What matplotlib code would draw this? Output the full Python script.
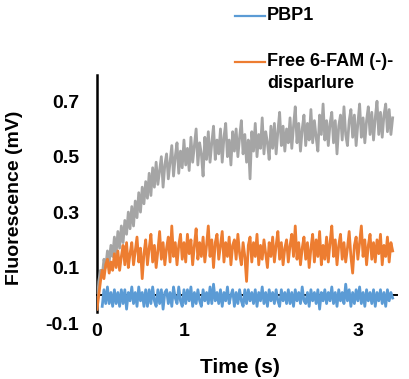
import numpy as np
import matplotlib
matplotlib.use("Agg")
import matplotlib.pyplot as plt
from matplotlib.lines import Line2D

plt.rcParams["font.family"] = ["Liberation Sans", "DejaVu Sans"]
plt.rcParams["font.weight"] = "bold"

# sampling of the stopped-flow traces (s)
t_step = 0.02
n_points = 171
time_s = np.round(np.arange(n_points) * t_step, 2)

# PBP1 alone (mV); recording starts a little after mixing
pbp1 = [
    np.nan, np.nan, np.nan, -0.04, 0.02, -0.03, 0.03, -0.03, 0.01, -0.04,
    0.02, -0.03, 0.01, -0.04, 0.02, -0.03, 0.02, -0.05, 0.01, -0.02,
    0.03, -0.03, 0.01, -0.04, 0.03, -0.02, 0.01, -0.04, 0.02, -0.04,
    0.02, -0.03, 0.03, -0.02, -0.04, 0.02, -0.03, 0.02, -0.05, 0.01,
    0.02, -0.03, 0.01, -0.04, 0.03, -0.01, -0.03, 0.03, -0.02, -0.04,
    0.02, -0.03, 0.02, -0.02, 0.03, -0.04, 0.01, -0.03, 0.02, -0.02,
    -0.04, 0.02, -0.02, 0.01, -0.03, 0.03, -0.03, 0.04, -0.02, 0.01,
    -0.03, 0.02, -0.04, 0.01, -0.02, 0.03, -0.03, 0.00, 0.02, -0.04,
    0.01, -0.03, 0.02, -0.02, -0.04, 0.02, -0.03, 0.02, -0.02, 0.01,
    -0.03, 0.02, -0.04, 0.01, -0.02, 0.03, -0.03, 0.01, -0.04, 0.02,
    -0.02, 0.01, -0.03, 0.02, -0.02, -0.04, 0.02, -0.02, 0.01, -0.03,
    0.02, -0.03, 0.01, -0.04, 0.02, -0.02, 0.01, -0.03, 0.03, -0.02,
    -0.03, 0.01, -0.04, 0.02, -0.02, 0.01, -0.03, 0.02, -0.05, 0.01,
    -0.02, 0.02, -0.03, 0.01, -0.02, 0.03, -0.03, 0.01, -0.04, 0.02,
    -0.02, 0.01, -0.03, 0.04, -0.02, 0.02, -0.04, 0.01, -0.03, 0.02,
    -0.02, 0.03, -0.03, 0.01, -0.04, 0.02, -0.02, 0.01, -0.03, 0.02,
    -0.04, 0.01, -0.02, 0.02, -0.03, 0.01, -0.04, 0.02, -0.02, 0.01,
    -0.01,
]

# free 6-FAM (-)-disparlure (mV)
free_ligand = [
    -0.05, 0.00, 0.05, 0.09, 0.06, 0.11, 0.13, 0.08, 0.12, 0.09,
    0.15, 0.10, 0.16, 0.09, 0.14, 0.18, 0.11, 0.19, 0.10, 0.15,
    0.19, 0.11, 0.16, 0.21, 0.12, 0.17, 0.06, 0.15, 0.20, 0.11,
    0.17, 0.22, 0.12, 0.18, 0.10, 0.16, 0.23, 0.13, 0.19, 0.11,
    0.17, 0.21, 0.12, 0.25, 0.14, 0.19, 0.11, 0.18, 0.22, 0.13,
    0.19, 0.12, 0.22, 0.15, 0.20, 0.11, 0.18, 0.24, 0.13, 0.19,
    0.14, 0.21, 0.12, 0.18, 0.25, 0.14, 0.20, 0.10, 0.19, 0.22,
    0.13, 0.18, 0.23, 0.12, 0.19, 0.14, 0.21, 0.11, 0.18, 0.20,
    0.13, 0.22, 0.15, 0.11, 0.19, 0.14, 0.05, 0.18, 0.21, 0.12,
    0.19, 0.14, 0.22, 0.11, 0.18, 0.13, 0.20, 0.15, 0.10, 0.19,
    0.14, 0.21, 0.12, 0.18, 0.23, 0.13, 0.19, 0.11, 0.17, 0.20,
    0.12, 0.18, 0.22, 0.14, 0.25, 0.13, 0.19, 0.11, 0.17, 0.21,
    0.13, 0.19, 0.10, 0.17, 0.22, 0.12, 0.20, 0.14, 0.23, 0.11,
    0.18, 0.13, 0.21, 0.12, 0.19, 0.25, 0.14, 0.20, 0.11, 0.18,
    0.22, 0.13, 0.19, 0.12, 0.17, 0.23, 0.14, 0.08, 0.18, 0.21,
    0.13, 0.19, 0.25, 0.14, 0.20, 0.11, 0.18, 0.22, 0.13, 0.19,
    0.12, 0.20, 0.15, 0.22, 0.11, 0.18, 0.14, 0.21, 0.12, 0.19,
    0.16,
]

# PBP1 mixed with 6-FAM (-)-disparlure (mV)
bound = [
    -0.05, 0.05, 0.09, 0.07, 0.13, 0.10, 0.16, 0.12, 0.18, 0.14,
    0.21, 0.15, 0.23, 0.17, 0.25, 0.19, 0.27, 0.22, 0.30, 0.24,
    0.32, 0.25, 0.34, 0.28, 0.37, 0.30, 0.39, 0.33, 0.41, 0.35,
    0.44, 0.36, 0.46, 0.39, 0.48, 0.40, 0.45, 0.50, 0.39, 0.47,
    0.51, 0.42, 0.48, 0.54, 0.43, 0.50, 0.55, 0.44, 0.52, 0.46,
    0.56, 0.47, 0.53, 0.45, 0.57, 0.48, 0.54, 0.60, 0.47, 0.55,
    0.51, 0.43, 0.57, 0.49, 0.59, 0.48, 0.55, 0.61, 0.49, 0.56,
    0.51, 0.60, 0.48, 0.57, 0.62, 0.50, 0.56, 0.47, 0.59, 0.52,
    0.60, 0.50, 0.57, 0.63, 0.51, 0.58, 0.48, 0.56, 0.42, 0.59,
    0.52, 0.62, 0.50, 0.58, 0.53, 0.64, 0.51, 0.59, 0.55, 0.49,
    0.61, 0.53, 0.62, 0.51, 0.59, 0.66, 0.54, 0.61, 0.52, 0.60,
    0.55, 0.64, 0.53, 0.61, 0.68, 0.55, 0.62, 0.52, 0.60, 0.65,
    0.54, 0.62, 0.56, 0.67, 0.55, 0.63, 0.57, 0.52, 0.65, 0.58,
    0.69, 0.56, 0.63, 0.54, 0.62, 0.66, 0.55, 0.63, 0.51, 0.61,
    0.65, 0.56, 0.68, 0.58, 0.54, 0.63, 0.67, 0.57, 0.65, 0.54,
    0.62, 0.69, 0.57, 0.64, 0.55, 0.63, 0.68, 0.58, 0.66, 0.56,
    0.64, 0.70, 0.58, 0.66, 0.57, 0.65, 0.69, 0.59, 0.67, 0.58,
    0.64,
]

y_ticks = [-0.1, 0.1, 0.3, 0.5, 0.7]
x_ticks = [0, 1, 2, 3]

BLUE = "#5B9BD5"
ORANGE = "#ED7D31"
GRAY = "#A5A5A5"

W, H = 409, 379
fig = plt.figure(figsize=(W / 100, H / 100), dpi=100)
ax = fig.add_axes([97 / W, 1 - 323 / H, 300 / W, 249.5 / H])

ax.plot(time_s, bound, color=GRAY, lw=2.0, zorder=3)
ax.plot(time_s, free_ligand, color=ORANGE, lw=2.0, zorder=4)
ax.plot(time_s, pbp1, color=BLUE, lw=2.0, zorder=5)

ax.set_xlim(0, 3.45)
ax.set_ylim(-0.1, 0.8)

for side in ("top", "right"):
    ax.spines[side].set_visible(False)
ax.spines["left"].set_linewidth(1.8)
ax.spines["left"].set_bounds(-0.06, 0.795)
ax.spines["left"].set_zorder(2)
ax.spines["bottom"].set_position(("data", 0))
ax.spines["bottom"].set_linewidth(1.4)
ax.spines["bottom"].set_zorder(2)

ax.set_yticks(y_ticks)
ax.set_yticklabels([f"{v:.1f}" for v in y_ticks])
ax.set_xticks(x_ticks)
ax.set_xticklabels([str(v) for v in x_ticks])
ax.tick_params(axis="y", length=0, pad=13, labelsize=14)
ax.tick_params(axis="x", length=0, pad=-5, labelsize=14)
# x tick labels sit at the bottom of the plot, not at the y=0 axis line
for lab in ax.get_xticklabels():
    lab.set_transform(ax.get_xaxis_transform())
    lab.set_y(0)
for lab in ax.get_yticklabels() + ax.get_xticklabels():
    lab.set_fontweight("bold")

ax.set_ylabel("Fluorescence (mV)", fontsize=14, fontweight="bold")
ax.yaxis.set_label_coords((23 - 97) / 300, 0.5)
ax.set_xlabel("Time (s)", fontsize=15, fontweight="bold")
ax.xaxis.set_label_coords((240 - 97) / 300, (323 - 358) / 249.5)

# legend entries
def fx(px):
    return px / W

def fy(py):
    return 1 - py / H

fig.add_artist(Line2D([fx(235), fx(265)], [fy(16), fy(16)], color=BLUE, lw=1.6))
fig.text(fx(267), fy(16), "PBP1", fontsize=13, fontweight="bold", va="center", ha="left")
fig.add_artist(Line2D([fx(235), fx(265)], [fy(62), fy(62)], color=ORANGE, lw=1.6))
fig.text(fx(267), fy(62), "Free 6-FAM (-)-", fontsize=13, fontweight="bold", va="center", ha="left")
fig.text(fx(267), fy(83), "disparlure", fontsize=13, fontweight="bold", va="center", ha="left")

fig.savefig("out.png", dpi=100)
